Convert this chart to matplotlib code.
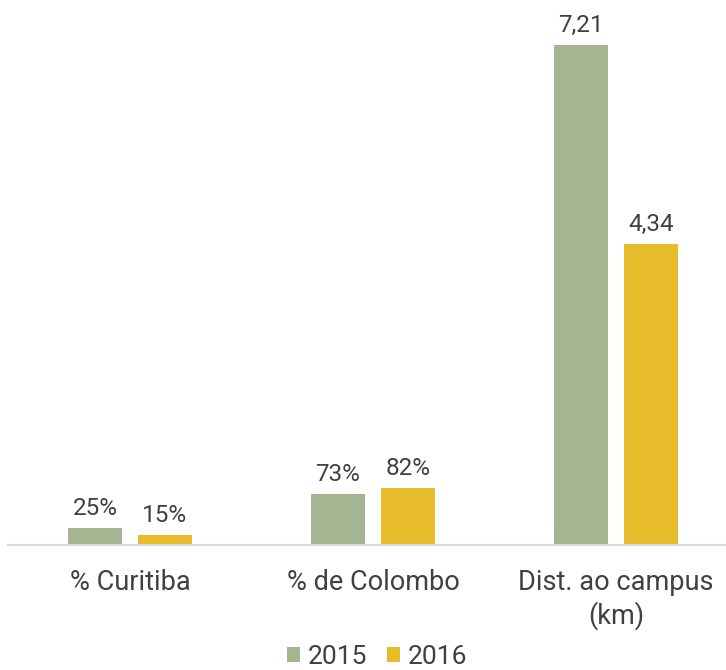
import matplotlib
matplotlib.use('Agg')
import matplotlib.pyplot as plt
import numpy as np

plt.rcParams['font.family'] = ['Roboto', 'DejaVu Sans']

categories = ['% Curitiba', '% de Colombo', 'Dist. ao campus\n(km)']
years = ['2015', '2016']
vals_2015 = [0.25, 0.73, 7.21]
vals_2016 = [0.15, 0.82, 4.34]
labels_2015 = ['25%', '73%', '7,21']
labels_2016 = ['15%', '82%', '4,34']

green = '#A5B592'
yellow = '#E6BC2A'
text_col = '#404040'

W, H = 726, 670
fig = plt.figure(figsize=(W / 100, H / 100), dpi=100)
# axes placed in pixel terms: baseline at y=545, category spacing 243 px
ax = fig.add_axes([8.5 / W, (H - 545) / H, 729 / W, 545 / H])

x = np.arange(len(categories))
bw = 0.222
off = 0.144
b1 = ax.bar(x - off, vals_2015, bw, color=green, label=years[0])
b2 = ax.bar(x + off, vals_2016, bw, color=yellow, label=years[1])

for bars, labs in [(b1, labels_2015), (b2, labels_2016)]:
    for rect, lab in zip(bars, labs):
        ax.annotate(lab, (rect.get_x() + rect.get_width() / 2, rect.get_height()),
                    xytext=(0, 8), textcoords='offset pixels',
                    ha='center', va='bottom', fontsize=17.5, color=text_col)

ax.set_xlim(-0.5, 2.5)
ax.set_ylim(0, 545 / 69.35)
ax.set_xticks(x)
ax.set_xticklabels(categories, fontsize=19.5, color=text_col, linespacing=1.25)
ax.tick_params(axis='x', length=0, pad=17)
ax.set_yticks([])
for s in ['top', 'right', 'left']:
    ax.spines[s].set_visible(False)
ax.spines['bottom'].set_color('#D9D9D9')
ax.spines['bottom'].set_linewidth(1.5)

# reference legend sits at the very bottom edge; keep it just inside the frame
fig.legend(handles=[b1, b2], labels=years, loc='center', bbox_to_anchor=(377 / W, (H - 657) / H),
           ncol=2, frameon=False, fontsize=19, handlelength=0.5, handleheight=0.5,
           handletextpad=0.3, columnspacing=0.75, labelcolor=text_col,
           borderpad=0, borderaxespad=0)

fig.savefig('out.png', dpi=100)
